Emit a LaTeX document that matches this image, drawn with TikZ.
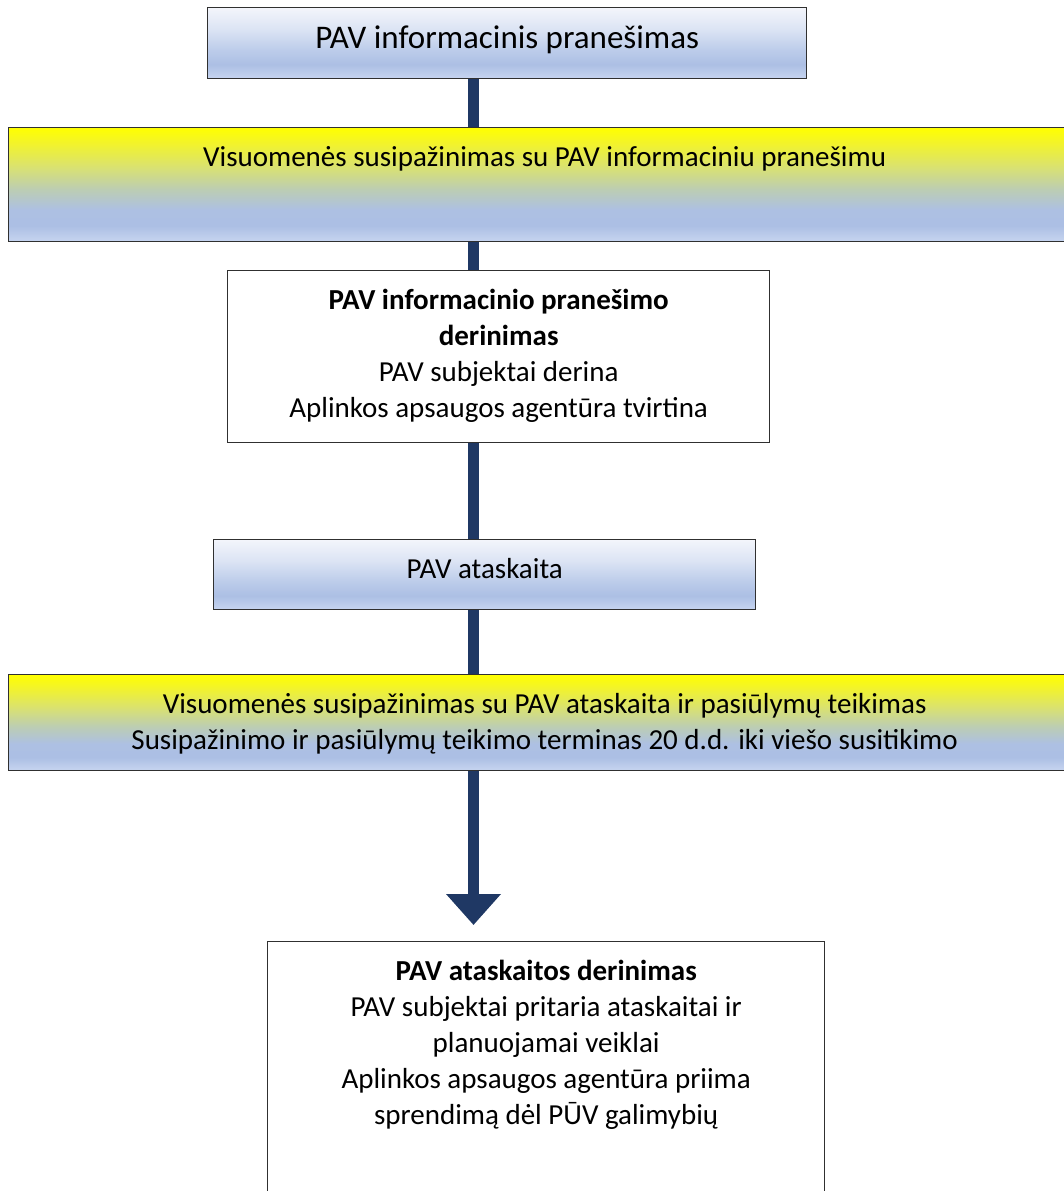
\documentclass[tikz,border=0pt]{standalone}
\usepackage{fontspec}
\setmainfont{Carlito}
\usetikzlibrary{
  positioning,
  arrows.meta
}
\definecolor{stemblue}{HTML}{1F3864}
\definecolor{framegray}{HTML}{303030}
\definecolor{pbA}{HTML}{F3F5FB}
\definecolor{pbB}{HTML}{DCE4F4}
\definecolor{pbC}{HTML}{BCCCEA}
\definecolor{pbD}{HTML}{ACBFE4}
\definecolor{pbE}{HTML}{C7D5F0}
\definecolor{ybA}{HTML}{FFFF00}
\definecolor{ybB}{HTML}{F2F32C}
\definecolor{ybC}{HTML}{DAE26F}
\definecolor{ybD}{HTML}{BCCDB3}
\definecolor{ybE}{HTML}{ADC0E3}
% vertical shadings, bottom (25bp) to top (75bp)
\pgfdeclareverticalshading{paleblue}{100bp}{%
  color(0bp)=(pbE); color(25bp)=(pbE); color(35bp)=(pbD); color(45bp)=(pbC);
  color(60bp)=(pbB); color(75bp)=(pbA); color(100bp)=(pbA)}
\pgfdeclareverticalshading{yellowblue}{100bp}{%
  color(0bp)=(pbE); color(25bp)=(pbE); color(32bp)=(pbD); color(39bp)=(ybE);
  color(48bp)=(ybD); color(58bp)=(ybC); color(68bp)=(ybB); color(75bp)=(ybA);
  color(100bp)=(ybA)}
\newcommand{\boxlines}[4][13.3pt]{\parbox[c][#3][t]{#2}{\centering\vspace*{#1}\strut#4}}
\tikzset{%
  flowbox/.style={draw=framegray, line width=1.4pt, inner sep=0pt, anchor=north west},
  bluebox/.style={flowbox, shading=paleblue},
  yellowbox/.style={flowbox, shading=yellowblue},
  whitebox/.style={flowbox, fill=white},
  stem/.style={draw=stemblue, line width=10.5pt}
}

\begin{document}
\begin{tikzpicture}[x=1pt, y=-1pt, font=\fontsize{29pt}{36pt}\selectfont]
  \useasboundingbox (0,0) rectangle (1063,1191);
  \coordinate (axis) at (473.5,0);
  \node[bluebox, font=\fontsize{33pt}{36pt}\selectfont] (info) at (207,7) {\boxlines[15.8pt]{599pt}{71pt}{PAV informacinis pranešimas}};
  \node[yellowbox] (pubinfo) at (8,127) {\boxlines{1072pt}{114pt}{Visuomenės susipažinimas su PAV informaciniu pranešimu}};
  \node[whitebox] (infoagree) at (227,270) {\boxlines{542pt}{172pt}{\textbf{PAV informacinio pranešimo}\\ \textbf{derinimas}\\ PAV subjektai derina\\ Aplinkos apsaugos agentūra tvirtina}};
  \node[bluebox] (report) at (213,539) {\boxlines{542pt}{70pt}{PAV ataskaita}};
  \node[yellowbox] (pubreport) at (8,674) {\boxlines{1072pt}{96pt}{Visuomenės susipažinimas su PAV ataskaita ir pasiūlymų teikimas\\ Susipažinimo ir pasiūlymų teikimo terminas 20 d.d. iki viešo susitikimo}};
  \node[whitebox] (reportagree) at (267,941) {\boxlines{557pt}{260pt}{\textbf{PAV ataskaitos derinimas}\\ PAV subjektai pritaria ataskaitai ir\\ planuojamai veiklai\\ Aplinkos apsaugos agentūra priima\\ sprendimą dėl PŪV galimybių}};
  \draw[stem] (info.south -| axis) -- (pubinfo.north -| axis);
  \draw[stem] (pubinfo.south -| axis) -- (infoagree.north -| axis);
  \draw[stem] (infoagree.south -| axis) -- (report.north -| axis);
  \draw[stem] (report.south -| axis) -- (pubreport.north -| axis);
  \draw[stem, -{Triangle[width=53pt, length=31pt]}, shorten >=16pt] (pubreport.south -| axis) -- (reportagree.north -| axis);
\end{tikzpicture}
\end{document}
